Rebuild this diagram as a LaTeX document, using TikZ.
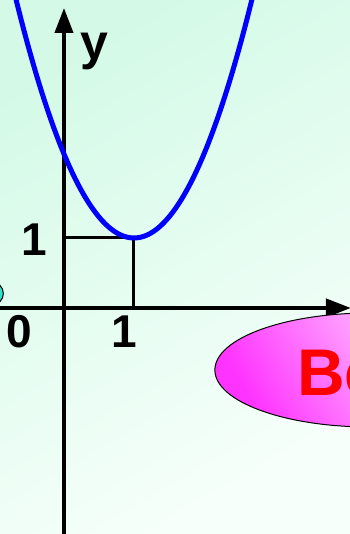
\documentclass[tikz,border=0pt]{standalone}
\usepackage{fontspec}
\setmainfont{Liberation Sans}
\usepackage{xcolor}
\usetikzlibrary{arrows.meta,positioning,shapes.geometric}

\definecolor{bgTop}{HTML}{D4FAE7}
\definecolor{bgBottom}{HTML}{F7FFFB}
\definecolor{curveBlue}{HTML}{0000FF}
\definecolor{ovalPink}{HTML}{FF33FF}
\definecolor{dotCyan}{HTML}{33E0CC}
\definecolor{labelRed}{HTML}{FF0000}

\begin{document}
\begin{tikzpicture}[
    x=70pt, y=70pt,
    axis/.style={line width=4pt, -{Triangle[length=25pt, width=18pt]}},
    guide/.style={line width=3pt},
    curve/.style={line width=5pt, draw=curveBlue},
    lbl/.style={font=\bfseries\fontsize{46}{46}\selectfont, inner sep=0pt},
    oval/.style={draw, ellipse, line width=1pt, minimum width=310pt, minimum height=114pt},
    title/.style={font=\bfseries\fontsize{66}{66}\selectfont, text=labelRed, inner sep=0pt, anchor=west}
]
% frame and background
\clip (-0.914,-3.229) rectangle (4.086,4.4);
\shade[top color=bgTop, bottom color=bgBottom, shading angle=30] (-0.914,-3.229) rectangle (4.086,4.4);

% key points
\coordinate (O) at (0,0);
\coordinate (P) at (1,1);
\coordinate (Py) at (0,1);
\coordinate (Px) at (1,0);

% axes
\draw[axis] (-1,0) -- (4.1,0);
\draw[axis] (0,-3.3) -- (0,4.286);

% projections of the vertex
\draw[guide] (Py) -- (P) -- (Px);

% parabola
\draw[curve] plot[domain=-0.71:2.71, samples=80] (\x, {1.2*(\x-1)^2+1});

% labels
\node[lbl, font=\bfseries\fontsize{50}{50}\selectfont] (ylab) at (0.44,3.66) {y};
\node[lbl] (one-y) at (-0.43,0.97) {1};
\node[lbl] (zero) at (-0.64,-0.34) {0};
\node[lbl] (one-x) at (0.86,-0.34) {1};

% partly visible marks
\draw[line width=1pt, fill=dotCyan] (-1.03,0.207) circle (0.164);
\node[oval, top color=white, bottom color=ovalPink, shading angle=-60] (oval) at (4.37,-0.886) {};
\node[title] (word) at (3.33,-0.93) {Be};
\end{tikzpicture}
\end{document}
